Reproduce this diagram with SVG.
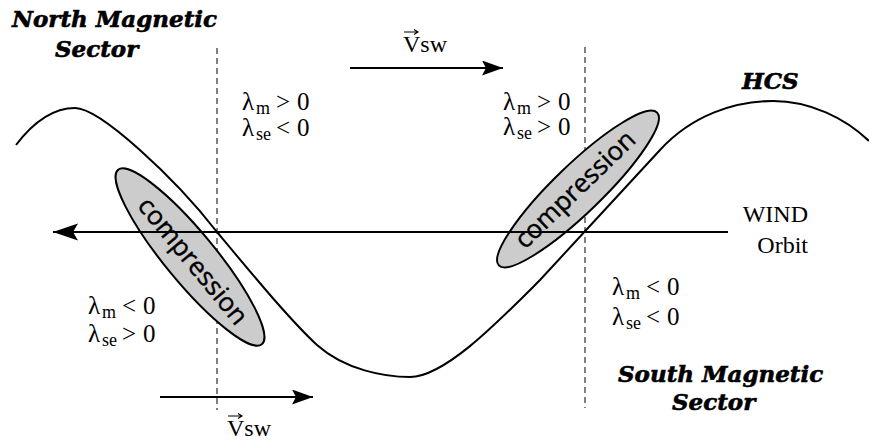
<svg xmlns="http://www.w3.org/2000/svg" width="869" height="444" viewBox="0 0 869 444">
<style>
.title{font-family:"DejaVu Serif",serif;font-weight:bold;font-style:italic;font-size:23px;fill:#000;stroke:#000;stroke-width:0.6}
.lam{font-family:"Liberation Serif","DejaVu Serif",serif;font-size:25px;fill:#000}
.sub{font-size:18px}
.vsw{font-family:"Liberation Serif","DejaVu Serif",serif;font-size:24px;fill:#000}
.comp{font-family:"Open Sans","DejaVu Sans",sans-serif;font-size:26px;text-anchor:middle;fill:#000;stroke:#000;stroke-width:0.4}
.ell{fill:#cccccc;stroke:#000;stroke-width:2}
.hcs{fill:none;stroke:#000;stroke-width:2}
.dash{stroke:#000;stroke-width:1;stroke-dasharray:6 4;fill:none}
.arrow{stroke:#000;stroke-width:2;fill:none}
.vec{stroke:#000;stroke-width:1.1;fill:none}
</style>
<defs>
<marker id="headL" markerUnits="userSpaceOnUse" markerWidth="26" markerHeight="18" refX="25" refY="8.5" orient="auto">
<path d="M0,0 L25,8.5 L0,17 L5,8.5 z" fill="#000"/>
</marker>
<marker id="headS" markerUnits="userSpaceOnUse" markerWidth="22" markerHeight="16" refX="21" refY="7.5" orient="auto">
<path d="M0,0 L21,7.5 L0,15 L4,7.5 z" fill="#000"/>
</marker>
</defs>

<g id="sector-boundaries">
<line class="dash" x1="217" y1="48" x2="217" y2="410"/>
<line class="dash" x1="585" y1="47" x2="585" y2="408"/>
</g>

<g id="hcs">
<path class="hcs" d="M16,145 C35,120 55,108 75,108 C100,108 175,178 217,232 C252,274 290,320 317,345 C345,370 385,377 410,377 C445,377 500,320 540,280 C580,237 620,193 660,150 C692,115 735,101 773,101 C810,101 845,118 869,141"/>
<text class="title" x="742" y="89">HCS</text>
</g>

<g id="compression-left">
<ellipse class="ell" cx="190" cy="257" rx="113" ry="25" transform="rotate(50.5 190 257)"/>
<text class="comp" transform="translate(190,257) rotate(50.5)" x="5" y="9">compression</text>
</g>

<g id="compression-right">
<ellipse class="ell" cx="578" cy="189" rx="110" ry="24" transform="rotate(-44 578 189)"/>
<text class="comp" transform="translate(578,189) rotate(-44)" x="-2.5" y="7">compression</text>
</g>

<g id="connectors">
<line class="arrow" x1="728" y1="232" x2="53" y2="232" marker-end="url(#headL)"/>
<line class="arrow" x1="350" y1="68" x2="503" y2="68" marker-end="url(#headS)"/>
<line class="arrow" x1="160" y1="397" x2="313" y2="397" marker-end="url(#headS)"/>
</g>

<g id="wind-orbit">
<text class="vsw" x="808" y="222" text-anchor="end">WIND</text>
<text class="vsw" x="808" y="253" text-anchor="end">Orbit</text>
</g>

<g id="vsw-top">
<text class="vsw" x="403" y="52">Vsw</text>
<path class="vec" d="M404,32 H418 M414,29.5 L418,32 L414,34.5"/>
</g>
<g id="vsw-bottom">
<text class="vsw" x="227" y="436">Vsw</text>
<path class="vec" d="M228,416 H242 M238,413.5 L242,416 L238,418.5"/>
</g>

<g id="north-sector">
<text class="title" x="12" y="27">North Magnetic</text>
<text class="title" x="55" y="57">Sector</text>
</g>
<g id="south-sector">
<text class="title" x="618" y="382">South Magnetic</text>
<text class="title" x="672" y="410">Sector</text>
</g>

<g id="lambda-tl">
<text class="lam"><tspan x="242" y="110">λ</tspan><tspan class="sub" x="256" y="114">m</tspan><tspan x="276" y="110">&gt;</tspan><tspan x="297" y="110">0</tspan></text>
<text class="lam"><tspan x="242" y="136">λ</tspan><tspan class="sub" x="256" y="140">se</tspan><tspan x="276" y="136">&lt;</tspan><tspan x="297" y="136">0</tspan></text>
</g>
<g id="lambda-tr">
<text class="lam"><tspan x="503" y="110">λ</tspan><tspan class="sub" x="517" y="114">m</tspan><tspan x="537" y="110">&gt;</tspan><tspan x="558" y="110">0</tspan></text>
<text class="lam"><tspan x="503" y="135">λ</tspan><tspan class="sub" x="517" y="139">se</tspan><tspan x="537" y="135">&gt;</tspan><tspan x="558" y="135">0</tspan></text>
</g>
<g id="lambda-bl">
<text class="lam"><tspan x="88" y="314">λ</tspan><tspan class="sub" x="102" y="318">m</tspan><tspan x="122" y="314">&lt;</tspan><tspan x="143" y="314">0</tspan></text>
<text class="lam"><tspan x="88" y="342">λ</tspan><tspan class="sub" x="102" y="346">se</tspan><tspan x="122" y="342">&gt;</tspan><tspan x="143" y="342">0</tspan></text>
</g>
<g id="lambda-br">
<text class="lam"><tspan x="612" y="295">λ</tspan><tspan class="sub" x="626" y="299">m</tspan><tspan x="646" y="295">&lt;</tspan><tspan x="667" y="295">0</tspan></text>
<text class="lam"><tspan x="612" y="325">λ</tspan><tspan class="sub" x="626" y="329">se</tspan><tspan x="646" y="325">&lt;</tspan><tspan x="667" y="325">0</tspan></text>
</g>
</svg>
